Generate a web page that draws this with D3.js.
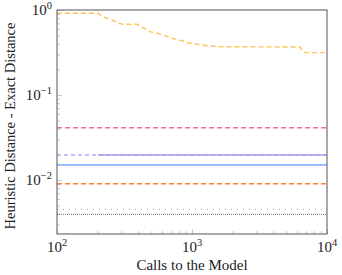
<!DOCTYPE html>
<html><head><meta charset="utf-8">
<script src="https://cdn.jsdelivr.net/npm/d3@7"></script>
<style>body{margin:0;background:#fff}svg{display:block}text{font-family:"Liberation Serif","Times New Roman",serif}</style>
</head><body><svg id="c" width="342" height="275"></svg>
<script>
// ---- data ----
const xTickLabels = ["2", "3", "4"];          // exponents of 10 on x
const yTickLabels = ["0", "−1", "−2"];        // exponents of 10 on y
const xDomain = [100, 10000];
const yDomain = [0.00232, 1];

// decreasing yellow series (calls, distance)
const yellowX = [100, 201, 219, 255, 283, 303, 391, 433, 489, 560, 711, 843, 934, 1107, 1291, 1479, 1698, 6310, 6640, 6950, 10000];
const yellowY = [0.915, 0.915, 0.834, 0.763, 0.709, 0.679, 0.679, 0.619, 0.556, 0.532, 0.465, 0.435, 0.412, 0.395, 0.380, 0.374, 0.370, 0.367, 0.323, 0.315, 0.315];
const pinkX = [100, 10000];       const pinkY = [0.0412, 0.0412];
const purpleDashX = [100, 10000]; const purpleDashY = [0.0197, 0.0197];
const purpleX = [201, 10000];     const purpleY = [0.0197, 0.0197];
const blueX = [100, 10000];       const blueY = [0.0151, 0.0151];
const orangeX = [100, 9800];      const orangeY = [0.00904, 0.00904];
const grayDotX = [100, 10000];    const grayDotY = [0.00452, 0.00452];
const darkDotX = [100, 10000];    const darkDotY = [0.00395, 0.00395];

const series = [
  {x: yellowX, y: yellowY, color: "#fdc45a", dash: "5,3", w: 1.4},
  {x: pinkX, y: pinkY, color: "#f46aae", dash: "5,3", w: 1.6},
  {x: purpleDashX, y: purpleDashY, color: "#b6aef3", dash: "4,3", w: 1.6},
  {x: purpleX, y: purpleY, color: "#a69cf1", dash: null, w: 1.6},
  {x: blueX, y: blueY, color: "#8eb3f7", dash: null, w: 1.6},
  {x: orangeX, y: orangeY, color: "#ff7f33", dash: "5,3", w: 1.6},
  {x: grayDotX, y: grayDotY, color: "#9a9a9a", dash: "1,5", w: 1},
  {x: darkDotX, y: darkDotY, color: "#6e6e6e", dash: "1,1", w: 1}
];

// ---- layout ----
const L = 57, R = 327, T = 10, B = 234;
const svg = d3.select("#c");
const x = d3.scaleLog().domain(xDomain).range([L, R]);
const y = d3.scaleLog().domain(yDomain).range([B, T]);

function minorTicks(scale) {
  const [a, b] = scale.domain();
  const out = [];
  for (let e = Math.floor(Math.log10(a)); e <= Math.ceil(Math.log10(b)); e++) {
    for (let m = 1; m < 10; m++) {
      const v = m * Math.pow(10, e);
      if (v >= a * 0.999 && v <= b * 1.001) out.push({v, major: m === 1});
    }
  }
  return out;
}

// ticks (inside)
const xt = minorTicks(x);
svg.append("g").attr("transform", `translate(0,${B})`)
  .call(d3.axisBottom(x).tickValues(xt.filter(d => !d.major).map(d => d.v)).tickSize(-3).tickFormat(""));
svg.append("g").attr("transform", `translate(0,${B})`)
  .call(d3.axisBottom(x).tickValues(xt.filter(d => d.major).map(d => d.v)).tickSize(-5).tickFormat(""));

const yt = minorTicks(y);
svg.append("g").attr("transform", `translate(${L},0)`)
  .call(d3.axisLeft(y).tickValues(yt.filter(d => !d.major).map(d => d.v)).tickSize(-3).tickFormat(""));
svg.append("g").attr("transform", `translate(${L},0)`)
  .call(d3.axisLeft(y).tickValues(yt.filter(d => d.major).map(d => d.v)).tickSize(-5).tickFormat(""));
svg.selectAll(".domain").remove();
svg.selectAll(".tick line").attr("stroke", "#bdbdbd").attr("stroke-width", 0.8);

// lines
svg.append("clipPath").attr("id", "pc").append("rect")
  .attr("x", L).attr("y", T).attr("width", R - L).attr("height", B - T);
const line = d3.line().x(d => x(d[0])).y(d => y(d[1]));
const gl = svg.append("g").attr("clip-path", "url(#pc)");
series.forEach(s => {
  gl.append("path")
    .attr("d", line(s.x.map((v, i) => [v, s.y[i]])))
    .attr("fill", "none").attr("stroke", s.color).attr("stroke-width", s.w)
    .attr("stroke-dasharray", s.dash);
});

// frame
svg.append("rect").attr("x", L).attr("y", T).attr("width", R - L).attr("height", B - T)
  .attr("fill", "none").attr("stroke", "#555").attr("stroke-width", 1);

// tick labels
xTickLabels.forEach(e => {
  const v = Math.pow(10, +e);
  const t = svg.append("text").attr("x", x(v)).attr("y", 251.5).attr("text-anchor", "middle")
    .attr("font-size", 15).attr("fill", "#222");
  t.append("tspan").text("10");
  t.append("tspan").attr("dy", -6).attr("font-size", 10.5).text(e);
});
yTickLabels.forEach(e => {
  const v = Math.pow(10, +e.replace("−", "-"));
  const t = svg.append("text").attr("x", 52).attr("y", y(v) + 5).attr("text-anchor", "end")
    .attr("font-size", 15).attr("fill", "#222");
  t.append("tspan").text("10");
  t.append("tspan").attr("dy", -6).attr("font-size", 10.5).text(e);
});

// axis titles
svg.append("text").attr("x", 192).attr("y", 270).attr("text-anchor", "middle")
  .attr("font-size", 15).attr("fill", "#222").text("Calls to the Model");
svg.append("text").attr("transform", "translate(15,126) rotate(-90)").attr("text-anchor", "middle")
  .attr("font-size", 14.5).attr("fill", "#222").text("Heuristic Distance - Exact Distance");
</script></body></html>
